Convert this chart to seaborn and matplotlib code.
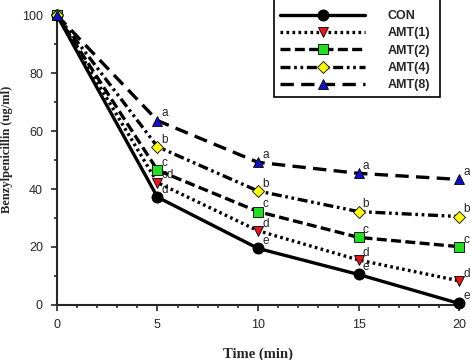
import matplotlib
matplotlib.use("Agg")
import matplotlib.pyplot as plt
import seaborn as sns
import pandas as pd
from matplotlib.patches import Rectangle
from matplotlib.ticker import MultipleLocator

# data
time = [0, 5, 10, 15, 20]
con = [100, 37.2, 19.5, 10.5, 0.5]
amt1 = [100, 42.2, 25.6, 15.5, 8.3]
amt2 = [100, 46.5, 32.2, 23.3, 20.1]
amt4 = [100, 54.6, 39.3, 32.2, 30.5]
amt8 = [100, 63.6, 49.2, 45.4, 43.3]

series_names = ["CON", "AMT(1)", "AMT(2)", "AMT(4)", "AMT(8)"]
letters = {
    "CON": ["", "d", "e", "e", "e"],
    "AMT(1)": ["", "cd", "d", "d", "d"],
    "AMT(2)": ["", "c", "c", "c", "c"],
    "AMT(4)": ["", "b", "b", "b", "b"],
    "AMT(8)": ["", "a", "a", "a", "a"],
}

df = pd.DataFrame({
    "time": time * 5,
    "conc": con + amt1 + amt2 + amt4 + amt8,
    "group": [n for n in series_names for _ in time],
})

styles = {
    "CON": dict(ls="-", marker="o", mfc="black"),
    "AMT(1)": dict(ls=(0, (0.8, 1.0)), marker="v", mfc="#e8141c"),
    "AMT(2)": dict(ls=(0, (3, 1.3)), marker="s", mfc="#22dd22"),
    "AMT(4)": dict(ls=(0, (3, 1.1, 0.8, 1.1, 0.8, 1.1)), marker="D", mfc="#ffff00"),
    "AMT(8)": dict(ls=(0, (4, 2.2)), marker="^", mfc="#1010cc"),
}
msize = {"CON": 8, "AMT(1)": 7.5, "AMT(2)": 7, "AMT(4)": 6.5, "AMT(8)": 7.5}

sns.set_style("ticks")
plt.rcParams["font.family"] = ["Liberation Sans", "DejaVu Sans"]

fig = plt.figure(figsize=(4.7, 3.6), dpi=100)
ax = fig.add_axes([0.121, 0.153, 0.856, 0.805])

for name in series_names:
    sub = df[df["group"] == name]
    st = styles[name]
    sns.lineplot(data=sub, x="time", y="conc", ax=ax, color="black",
                 linestyle=st["ls"], linewidth=2.4, marker=st["marker"],
                 markerfacecolor=st["mfc"], markeredgecolor="black",
                 markeredgewidth=0.6, markersize=msize[name], clip_on=False,
                 label=name, zorder=3)
    for t, v, lab in zip(sub["time"], sub["conc"], letters[name]):
        if lab:
            ax.annotate(lab, (t, v), xytext=(3, 3), textcoords="offset points",
                        fontsize=8.5, color="#222222")

ax.set_xlim(0, 20)
ax.set_ylim(0, 100)
ax.xaxis.set_major_locator(MultipleLocator(5))
ax.xaxis.set_minor_locator(MultipleLocator(1))
ax.yaxis.set_major_locator(MultipleLocator(20))
ax.yaxis.set_minor_locator(MultipleLocator(10))
ax.tick_params(which="major", length=4, width=1.2, labelsize=9, pad=6)
ax.tick_params(which="minor", length=2.5, width=1.2)
for s in ["left", "bottom"]:
    ax.spines[s].set_linewidth(1.5)
sns.despine(ax=ax)

ax.set_xlabel("Time (min)", family="Liberation Serif", fontweight="bold",
              fontsize=10.5, labelpad=12)
ax.set_ylabel("Benzylpenicillin (ug/ml)", family="Liberation Serif",
              fontweight="bold", fontsize=9)
ax.yaxis.set_label_coords(-0.108, 0.538)

h, l = ax.get_legend_handles_labels()
if ax.get_legend():
    ax.get_legend().remove()

# legend box drawn as its own rectangle so its size matches the reference
box = Rectangle((0.583, 0.731), 0.353, 0.275, transform=fig.transFigure,
                facecolor="white", edgecolor="black", linewidth=1.2, zorder=4)
fig.add_artist(box)
leg = fig.legend(h, l, loc="upper left", bbox_to_anchor=(0.583, 0.989),
                 frameon=False, handlelength=6.8, numpoints=1,
                 prop={"weight": "bold", "size": 9}, borderpad=0.5,
                 labelspacing=0.42, handletextpad=1.8, borderaxespad=0)
leg.set_zorder(5)

fig.savefig("out.png", dpi=100)
